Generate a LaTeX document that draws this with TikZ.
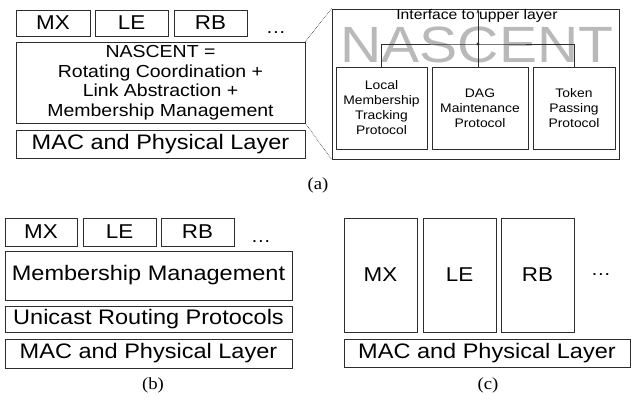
\documentclass[tikz,border=0pt]{standalone}
\usepackage{fontspec}
\usepackage{tikz}
\usetikzlibrary{arrows.meta}
\newfontfamily\wideSans[FakeStretch=1.12]{Liberation Sans}
\newfontfamily\capSerif[FakeStretch=1.1]{Liberation Serif}
\definecolor{ln}{RGB}{45,45,45}
\definecolor{wm}{RGB}{185,185,185}

\begin{document}
\begin{tikzpicture}[
  box/.style={draw=ln, line width=0.8pt, inner sep=0pt, align=center},
  proto/.style={box, font=\wideSans\fontsize{20}{22}\selectfont},
  layer/.style={box, font=\wideSans\fontsize{21}{23}\selectfont},
  inner/.style={box, font=\wideSans\fontsize{12.4}{15}\selectfont},
  dots/.style={anchor=base, inner sep=0pt, font=\wideSans\fontsize{18}{20}\selectfont},
  captxt/.style={inner sep=0pt, font=\capSerif\fontsize{17}{19}\selectfont}
]
\useasboundingbox (0pt,0pt) rectangle (631pt,-403pt);
% (a) stack
\node (mxA) [proto, minimum width=74pt, minimum height=26pt] at (53pt, -23pt) {MX};
\node (leA) [proto, minimum width=73pt, minimum height=26pt] at (131.5pt, -23pt) {LE};
\node (rbA) [proto, minimum width=73pt, minimum height=26pt] at (210.5pt, -23pt) {RB};
\node (dotsA) [dots] at (276pt, -34pt) {\dots};
\node (nascentA) [box, minimum width=289pt, minimum height=81pt, font=\wideSans\fontsize{17.4}{19.5}\selectfont] at (160.5pt, -82.5pt)
  {NASCENT =\\Rotating Coordination +\\Link Abstraction +\\Membership Management};
\node (macA) [layer, minimum width=289pt, minimum height=28pt] at (160.5pt, -144pt) {MAC and Physical Layer};
% (a) zoomed NASCENT
\node (outer) [box, minimum width=287pt, minimum height=150pt] at (475.5pt, -84pt) {};
\node (wmark) [anchor=base, inner sep=0pt, text=wm, font=\wideSans\fontsize{51}{51}\selectfont] at (477pt, -63pt) {NASCENT};
\node (iface) [anchor=base, inner sep=0pt, font=\wideSans\fontsize{14}{16}\selectfont] at (477pt, -20pt) {Interface to upper layer};
\node (local) [inner, minimum width=91pt, minimum height=82pt] at (381.5pt, -108pt) {Local\\Membership\\Tracking\\Protocol};
\node (dag) [inner, minimum width=96pt, minimum height=82pt] at (480pt, -108pt) {DAG\\Maintenance\\Protocol};
\node (token) [inner, minimum width=82pt, minimum height=82pt] at (574pt, -108pt) {Token\\Passing\\Protocol};
\coordinate (junc) at (478pt, -44pt);
\draw [line width=0.8pt, color=ln] (local.north) |- (junc) -| (token.north);
\draw [line width=0.8pt, color=ln, -{Stealth[length=5pt, width=3pt]}] (junc |- dag.north) -- (junc |- outer.north);
\fill [ln] (junc) circle (1.6pt);
\draw [densely dotted, line width=0.6pt, color=ln] (nascentA.north east) -- (outer.north west);
\draw [densely dotted, line width=0.6pt, color=ln] (nascentA.south east) -- (outer.south west);
\node (capA) [captxt] at (318pt, -185pt) {(a)};
% (b)
\node (mxB) [proto, minimum width=72pt, minimum height=28pt] at (41pt, -232pt) {MX};
\node (leB) [proto, minimum width=73pt, minimum height=28pt] at (119.5pt, -232pt) {LE};
\node (rbB) [proto, minimum width=73pt, minimum height=28pt] at (197.5pt, -232pt) {RB};
\node (dotsB) [dots] at (261pt, -243pt) {\dots};
\node (memB) [layer, minimum width=287pt, minimum height=49pt] at (148.5pt, -275.5pt) {Membership Management};
\node (uniB) [layer, minimum width=287pt, minimum height=26pt] at (148.5pt, -319pt) {Unicast Routing Protocols};
\node (macB) [layer, minimum width=287pt, minimum height=29pt] at (148.5pt, -353.5pt) {MAC and Physical Layer};
\node (capB) [captxt] at (153pt, -385pt) {(b)};
% (c)
\node (mxC) [proto, minimum width=73pt, minimum height=114pt] at (380.5pt, -275pt) {MX};
\node (leC) [proto, minimum width=73pt, minimum height=114pt] at (459.5pt, -275pt) {LE};
\node (rbC) [proto, minimum width=73pt, minimum height=114pt] at (537.5pt, -275pt) {RB};
\node (dotsC) [dots] at (601pt, -275pt) {\dots};
\node (macC) [layer, minimum width=286pt, minimum height=28pt] at (487pt, -353pt) {MAC and Physical Layer};
\node (capC) [captxt] at (488pt, -385pt) {(c)};
\end{tikzpicture}
\end{document}
